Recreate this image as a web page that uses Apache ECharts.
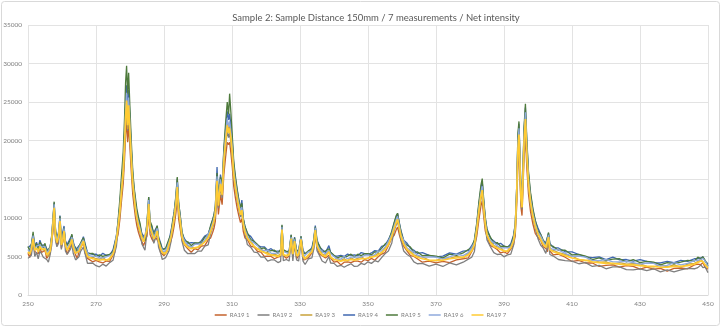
<!DOCTYPE html>
<html>
<head>
<meta charset="utf-8">
<script src="https://cdn.jsdelivr.net/npm/echarts@6/dist/echarts.min.js"></script>
<style>
  html, body { margin: 0; padding: 0; background: #ffffff; }
  #chart { width: 721px; height: 327px; }
</style>
</head>
<body>
<div id="chart"></div>
<script>
// Wavelength positions shared by all seven measurements
const wavelength = [
  250, 250.5, 251, 251.5, 252, 252.5, 253, 253.5, 254, 254.5,
  255, 255.5, 256, 256.5, 257, 257.3, 257.7, 258.1, 258.5, 259,
  259.4, 259.8, 260.2, 260.6, 261, 261.5, 262, 262.5, 262.9, 263.3,
  264, 264.5, 265, 265.5, 266.3, 266.8, 267.5, 268, 269, 270,
  271, 272, 273, 274, 275, 275.5, 276, 276.5, 277, 277.5,
  278, 278.4, 278.7, 279, 279.3, 279.6, 280, 280.4, 280.8, 281.2,
  281.6, 282, 282.5, 283, 283.5, 284, 284.4, 285, 285.5, 285.9,
  286.5, 287, 287.5, 288, 288.4, 289, 289.5, 290, 290.5, 291,
  291.5, 292, 292.5, 293, 293.5, 293.9, 294.3, 294.8, 295.3, 296,
  297, 298, 299, 300, 301, 302, 303, 303.7, 304.3, 304.7,
  305.1, 305.6, 306, 306.6, 307.1, 307.6, 308.1, 308.6, 309, 309.3,
  309.7, 310.1, 310.5, 311, 311.5, 312, 312.5, 312.9, 313.3, 313.8,
  314.5, 315.5, 316.5, 317.5, 318.5, 319.5, 320.5, 321.5, 322.5, 323.5,
  324.3, 324.7, 325.1, 326, 326.8, 327.4, 327.9, 328.4, 329, 329.6,
  330.3, 330.9, 331.5, 332.5, 333.5, 334, 334.5, 335, 335.7, 336.5,
  337.5, 338.5, 339, 340, 341, 342, 343, 344, 345, 346,
  347, 348, 349, 350, 351, 352, 353, 354, 355, 356,
  357, 357.7, 358.3, 358.7, 359.2, 359.7, 360.5, 361.5, 362.5, 363.5,
  364.5, 366, 368, 370, 372, 374, 376, 378, 379.5, 380.5,
  381.3, 382, 382.6, 383.2, 383.6, 384, 384.5, 385, 386, 387,
  388, 389, 390, 391, 392, 392.8, 393.3, 393.7, 394.1, 394.4,
  394.7, 395, 395.3, 395.6, 395.9, 396.3, 396.7, 397.2, 397.8, 398.5,
  399.2, 400, 400.8, 401.5, 402.3, 402.8, 403.1, 403.5, 404.5, 406,
  408, 410, 412, 414, 416, 418, 420, 422, 424, 426,
  428, 430, 432, 434, 436, 438, 440, 442, 444, 446,
  447, 447.9, 448.5, 449.2, 450
];

const ra19_1 = [
  5400, 4850, 5800, 6950, 5650, 5600, 5350, 6100, 5500, 5600,
  5800, 4750, 4900, 5350, 7150, 8000, 10200, 7500, 6400, 7400,
  8650, 6050, 6800, 7450, 6350, 5300, 5750, 6400, 6800, 6100,
  5200, 4750, 5600, 5850, 6850, 5400, 4750, 4700, 4300, 4500,
  4300, 4150, 4400, 4350, 5150, 5500, 6950, 7900, 9700, 12150,
  14400, 17600, 20700, 22700, 19800, 22100, 18900, 15800, 13100, 11500,
  10100, 9000, 8100, 7400, 7250, 6400, 6450, 7650, 10600, 7850,
  7200, 6850, 7500, 7450, 6850, 5500, 5250, 5100, 5000, 5700,
  6400, 6950, 7750, 9000, 10600, 12600, 9900, 8450, 7100, 6500,
  6000, 5550, 6000, 5850, 6350, 6400, 7150, 7400, 8100, 8650,
  9550, 13300, 10450, 13000, 11700, 15600, 17800, 19800, 19500, 19800,
  18300, 16500, 14100, 12600, 11300, 10300, 9400, 9900, 8300, 7400,
  7200, 6350, 6200, 5650, 5550, 5000, 5050, 5000, 4700, 4900,
  5000, 7700, 5100, 4750, 5050, 6700, 5050, 6500, 4700, 5100,
  7000, 4550, 4600, 4850, 5450, 5900, 7600, 6200, 5300, 5100,
  4800, 5150, 4800, 4250, 4350, 3900, 4250, 4300, 4200, 4400,
  4400, 4250, 4600, 4450, 4750, 4500, 4950, 5300, 5500, 6400,
  7400, 7750, 8450, 8800, 7850, 7100, 6350, 5700, 5100, 5000,
  4700, 4250, 4400, 4150, 4350, 4200, 4550, 4700, 4800, 5600,
  6300, 7650, 9700, 11500, 12200, 10300, 8300, 7600, 6400, 6200,
  5900, 5450, 5600, 5350, 5950, 6500, 7650, 11250, 16900, 18700,
  14800, 11300, 10300, 13900, 17800, 20500, 16600, 13100, 10800, 9200,
  8000, 7450, 7100, 6250, 6050, 5600, 7100, 5700, 5200, 5300,
  4900, 4350, 4500, 4150, 4150, 3700, 3850, 3900, 3600, 3800,
  3700, 3350, 3600, 3350, 3450, 3100, 3450, 3500, 3400, 3900,
  4000, 3950, 4200, 3550, 3350
];

const ra19_2 = [
  4750, 4700, 5150, 6800, 5000, 5550, 4700, 5650, 5350, 4900,
  5150, 4600, 4250, 5200, 6500, 8600, 11000, 7050, 6250, 6700,
  9300, 5900, 6150, 8050, 5700, 5250, 5100, 5950, 6650, 5400,
  4550, 4600, 4950, 5700, 6200, 5350, 4100, 4250, 4150, 3800,
  3650, 4000, 3750, 4200, 4500, 5450, 6300, 8550, 10500, 13100,
  15500, 18900, 22300, 24400, 21300, 23900, 20400, 17000, 14100, 12400,
  10900, 9700, 8700, 8000, 6600, 6350, 5800, 8250, 11450, 8450,
  7750, 6700, 6850, 8050, 6200, 5450, 4600, 4650, 4850, 5000,
  5750, 6800, 8350, 9700, 11450, 13600, 10700, 9100, 6950, 5800,
  5350, 5400, 5350, 5700, 5700, 6350, 6500, 7950, 8750, 9300,
  10300, 14400, 11250, 14000, 12600, 16800, 19200, 21300, 20400, 21000,
  19700, 17800, 15200, 13600, 12200, 11100, 10100, 10700, 8900, 8000,
  6550, 6200, 5550, 5500, 4900, 4950, 4400, 4550, 4550, 4200,
  4350, 8200, 4450, 4600, 4400, 6900, 4400, 6700, 4550, 4400,
  6900, 4400, 3950, 4700, 4800, 5850, 8150, 5750, 5150, 4400,
  4150, 5000, 4150, 4100, 3700, 3850, 3600, 3850, 4050, 3700,
  3750, 4100, 3950, 4300, 4100, 4450, 4300, 4850, 5350, 5700,
  6750, 8350, 9100, 9500, 8450, 7050, 5700, 5250, 4950, 4300,
  4050, 4100, 3750, 4000, 3700, 4150, 3900, 4250, 4650, 4900,
  5650, 8250, 10500, 12400, 13200, 11050, 8900, 7150, 6250, 5500,
  5250, 5300, 4950, 5200, 5300, 6450, 8250, 12100, 18200, 20200,
  15900, 12100, 11100, 14900, 19200, 22100, 17800, 14100, 11600, 9900,
  8650, 7300, 6450, 6100, 5400, 5550, 7000, 5250, 5050, 4600,
  4450, 4400, 4050, 4200, 3700, 3850, 3400, 3650, 3650, 3300,
  3250, 3400, 3150, 3400, 3000, 3250, 3000, 3250, 3450, 3400,
  3550, 3900, 3550, 3600, 2900
];

const ra19_3 = [
  5750, 5550, 5900, 7250, 6100, 6150, 5800, 6200, 6100, 5800,
  6150, 5450, 5000, 5650, 7600, 8900, 11400, 7600, 7000, 7600,
  9650, 6750, 6900, 8300, 6800, 5850, 6200, 6500, 7400, 6300,
  5550, 5450, 5700, 6150, 7300, 5950, 5200, 4800, 4900, 4700,
  4650, 4850, 4500, 4650, 5600, 6050, 7400, 8800, 10900, 13500,
  15800, 19800, 22600, 25800, 21500, 25000, 20600, 17800, 14300, 13000,
  11300, 10100, 8900, 8100, 7700, 6950, 6900, 8300, 11900, 8800,
  8100, 7550, 7600, 8200, 7300, 6050, 5700, 5200, 5600, 5900,
  6750, 7650, 8500, 9950, 11900, 14200, 11000, 9300, 7700, 6700,
  6350, 6250, 6100, 6150, 6800, 6950, 7600, 8200, 9100, 9650,
  10700, 15000, 11500, 14600, 12900, 17500, 20000, 22400, 21200, 22000,
  20500, 18100, 15900, 13900, 12700, 11300, 10500, 10900, 9300, 8200,
  7550, 7050, 6300, 5950, 6000, 5550, 5500, 5100, 5300, 5100,
  5350, 8600, 5200, 5050, 5500, 7300, 5500, 7000, 5300, 5300,
  7350, 5250, 4700, 5150, 5900, 6450, 8400, 6300, 5900, 5300,
  5150, 5850, 4900, 4550, 4800, 4450, 4700, 4400, 4800, 4600,
  4750, 4950, 4700, 4750, 5200, 5050, 5400, 5400, 6100, 6600,
  7750, 8700, 9400, 9800, 8800, 7650, 6800, 5800, 5700, 5200,
  5050, 4950, 4500, 4450, 4800, 4750, 5000, 4800, 5400, 5800,
  6650, 8600, 10800, 12700, 13800, 11300, 9300, 7700, 7000, 6400,
  6250, 6150, 5700, 5650, 6400, 7050, 8600, 12400, 19000, 21000,
  16600, 12600, 11300, 15600, 20000, 23200, 18500, 14400, 12100, 10300,
  9000, 8150, 7200, 6550, 6500, 6150, 7600, 5800, 5800, 5500,
  5250, 5050, 4600, 4450, 4600, 4250, 4300, 4000, 4200, 4000,
  4050, 4050, 3700, 3650, 3900, 3650, 3900, 3600, 4000, 4100,
  4350, 4650, 4300, 3850, 3700
];

const ra19_4 = [
  6100, 6100, 6550, 7900, 6350, 6850, 6100, 7100, 6450, 6400,
  6500, 6000, 5650, 6150, 7850, 9600, 12000, 8500, 7350, 8200,
  10300, 7300, 7550, 8950, 7050, 6550, 6500, 7400, 7750, 6900,
  5900, 6000, 6350, 6650, 7550, 6650, 5500, 5700, 5250, 5300,
  5000, 5400, 5150, 5150, 5850, 6750, 7700, 9500, 11650, 14600,
  17300, 21100, 24800, 27200, 23800, 26600, 22700, 18900, 15700, 13800,
  12100, 10800, 9700, 8850, 7950, 7650, 7200, 9200, 12700, 9400,
  8650, 8100, 8250, 8950, 7550, 6750, 6000, 6100, 5950, 6500,
  7100, 8200, 9300, 10800, 12700, 15100, 11900, 10150, 8050, 7300,
  6700, 6800, 6750, 6650, 7050, 7650, 7900, 8850, 9700, 10350,
  11400, 16600, 12500, 15600, 14000, 18700, 21400, 23800, 22700, 23500,
  21900, 19800, 17000, 15100, 13600, 12300, 11200, 12300, 9900, 8900,
  7900, 7600, 6950, 6450, 6250, 6250, 5800, 6000, 5650, 5700,
  5700, 9000, 5850, 5550, 5750, 7800, 5800, 7500, 5650, 5900,
  7600, 5800, 5350, 5650, 6150, 7150, 9000, 7200, 6250, 5900,
  5500, 6400, 5550, 5050, 5050, 5150, 5000, 5300, 5150, 5200,
  5100, 5500, 5350, 5250, 5450, 5750, 5700, 6300, 6450, 7200,
  8100, 9300, 10150, 10550, 9400, 8350, 7100, 6700, 6050, 5800,
  5400, 5500, 5150, 4950, 5050, 5450, 5300, 5700, 5750, 6400,
  7000, 9200, 11650, 13800, 14700, 12300, 9900, 8600, 7350, 7000,
  6600, 6700, 6350, 6150, 6650, 7750, 9200, 13500, 20300, 22200,
  17700, 13500, 12300, 16600, 21400, 24300, 19900, 15700, 13000, 11000,
  9600, 8700, 7850, 7050, 6750, 6850, 8000, 6700, 6150, 6100,
  5600, 5600, 5250, 4950, 4850, 4950, 4600, 4900, 4550, 4600,
  4400, 4600, 4350, 4150, 4150, 4350, 4200, 4500, 4350, 4700,
  4700, 4800, 4950, 4350, 4050
];

const ra19_5 = [
  6300, 5700, 6550, 8200, 6100, 6700, 5950, 6850, 6600, 6100,
  6700, 5600, 5650, 6250, 7600, 9700, 12100, 8250, 7500, 7900,
  10200, 6900, 7550, 8700, 6800, 6400, 6350, 7150, 7900, 6600,
  6100, 5600, 6350, 6750, 7400, 6500, 5350, 5450, 5400, 5000,
  5200, 5000, 5150, 5250, 5600, 6600, 7550, 9700, 12300, 15500,
  18500, 23000, 27500, 29700, 26000, 28800, 24000, 19800, 16200, 14000,
  12600, 11200, 10100, 9200, 7700, 7500, 7050, 9500, 12700, 9600,
  8900, 7700, 8250, 9000, 7300, 6600, 5850, 5850, 6100, 6200,
  7300, 7800, 9500, 10800, 12900, 15300, 12000, 10200, 8200, 7000,
  6900, 6400, 6750, 6750, 6800, 7500, 7750, 9000, 9800, 10400,
  11600, 15800, 12800, 15300, 14200, 19000, 22200, 25000, 23400, 26100,
  23500, 20500, 17400, 15400, 13800, 12400, 11300, 11900, 10000, 8900,
  8100, 7200, 6950, 6550, 6000, 6100, 5650, 5750, 5800, 5400,
  5900, 9100, 5850, 5650, 5500, 7800, 5650, 7400, 5800, 5600,
  7600, 5400, 5350, 5750, 5900, 7000, 8850, 6950, 6400, 5600,
  5700, 6000, 5550, 5150, 4800, 5000, 4850, 5050, 5300, 4900,
  5300, 5100, 5350, 5350, 5200, 5600, 5550, 6050, 6600, 6900,
  8300, 9400, 10300, 10600, 9300, 8200, 6950, 6450, 6200, 5500,
  5600, 5100, 5150, 5050, 4800, 5300, 5150, 5450, 5900, 6100,
  7200, 9400, 12000, 14200, 15100, 12600, 10100, 8350, 7500, 6700,
  6800, 6300, 6350, 6250, 6400, 7600, 9100, 13600, 21000, 22500,
  18000, 13700, 12200, 16900, 21800, 24800, 20300, 16000, 13300, 11200,
  9700, 8300, 7850, 7150, 6500, 6700, 8100, 6450, 6300, 5800,
  5800, 5200, 5250, 5050, 4600, 4800, 4450, 4650, 4700, 4300,
  4600, 4200, 4350, 4250, 3900, 4200, 4050, 4250, 4500, 4400,
  4900, 4700, 4950, 4450, 3800
];

const ra19_6 = [
  5900, 5500, 6350, 7700, 5950, 6350, 6100, 6500, 6200, 6150,
  6300, 5400, 5450, 6100, 7450, 9250, 11750, 7900, 7100, 7950,
  9950, 6700, 7350, 8650, 6650, 6050, 6500, 6800, 7500, 6650,
  5700, 5400, 6150, 6600, 7150, 6150, 5500, 5100, 5000, 5050,
  4800, 4800, 4950, 5100, 5450, 6250, 7700, 9150, 11200, 14000,
  16600, 20300, 23900, 26200, 22900, 25600, 21800, 18200, 15100, 13300,
  11650, 10400, 9350, 8550, 7550, 7150, 7200, 8850, 12300, 9050,
  8300, 7500, 8050, 8650, 6850, 6250, 6000, 5500, 5700, 6250,
  6900, 7600, 8950, 10400, 12300, 14600, 11450, 9800, 7800, 7050,
  6500, 6200, 6550, 6600, 6650, 7150, 7900, 8550, 9350, 10000,
  11000, 15400, 12100, 15000, 13500, 18000, 20600, 22900, 21800, 22500,
  21100, 19000, 16300, 14600, 13100, 11900, 10800, 11400, 9600, 8500,
  7700, 7000, 6750, 6400, 5850, 5750, 5800, 5400, 5400, 5450,
  5500, 8800, 5650, 5500, 5350, 7500, 5800, 7200, 5400, 5650,
  7400, 5200, 5150, 5600, 5750, 6650, 8700, 6600, 6000, 5650,
  5300, 5800, 5350, 5000, 4650, 4650, 5000, 4700, 4900, 4950,
  4900, 4900, 5150, 5200, 5050, 5250, 5700, 5700, 6200, 6950,
  7900, 8950, 9750, 10200, 9050, 7850, 7100, 6100, 5800, 5550,
  5200, 4900, 4950, 4900, 4650, 4950, 5300, 5100, 5500, 6150,
  6800, 8850, 11250, 13300, 14100, 11850, 9550, 7900, 7100, 6750,
  6400, 6100, 6150, 6100, 6250, 7250, 8850, 13000, 19600, 21600,
  17100, 13000, 11900, 16000, 20600, 23700, 19100, 15100, 12500, 10600,
  9250, 8100, 7650, 7000, 6350, 6350, 7800, 6100, 5900, 5850,
  5400, 5000, 5050, 4900, 4450, 4450, 4600, 4300, 4300, 4350,
  4200, 4000, 4150, 4100, 3750, 3850, 4200, 3900, 4100, 4450,
  4500, 4600, 4750, 4400, 3650
];

const ra19_7 = [
  5600, 5300, 5900, 7300, 5800, 6100, 5600, 6300, 5900, 5700,
  6000, 5200, 5000, 5700, 7300, 8900, 11300, 7700, 6800, 7500,
  9600, 6500, 6900, 8300, 6500, 5800, 6000, 6600, 7200, 6200,
  5400, 5200, 5700, 6200, 7000, 5900, 5000, 4900, 4700, 4600,
  4500, 4600, 4500, 4700, 5300, 6000, 7200, 8800, 10800, 13500,
  16000, 19500, 23000, 25200, 22000, 24600, 21000, 17500, 14500, 12800,
  11200, 10000, 9000, 8200, 7400, 6900, 6700, 8500, 11800, 8700,
  8000, 7300, 7600, 8300, 7000, 6000, 5500, 5300, 5400, 5800,
  6600, 7400, 8600, 10000, 11800, 14000, 11000, 9400, 7500, 6600,
  6200, 6000, 6100, 6200, 6500, 6900, 7400, 8200, 9000, 9600,
  10600, 14800, 11600, 14400, 13000, 17300, 19800, 22000, 21000, 21600,
  20300, 18300, 15700, 14000, 12600, 11400, 10400, 11000, 9200, 8200,
  7400, 6800, 6300, 6000, 5700, 5500, 5300, 5200, 5100, 5000,
  5200, 8500, 5200, 5100, 5200, 7300, 5300, 7000, 5100, 5200,
  7200, 5000, 4700, 5200, 5600, 6400, 8400, 6400, 5700, 5200,
  5000, 5600, 4900, 4600, 4500, 4400, 4500, 4500, 4600, 4500,
  4600, 4700, 4700, 4800, 4900, 5000, 5200, 5500, 5900, 6500,
  7600, 8600, 9400, 9800, 8700, 7600, 6600, 5900, 5500, 5100,
  4900, 4700, 4500, 4500, 4500, 4700, 4800, 4900, 5200, 5700,
  6500, 8500, 10800, 12800, 13600, 11400, 9200, 7800, 6800, 6300,
  6100, 5900, 5700, 5700, 6100, 7000, 8500, 12500, 18800, 20800,
  16400, 12500, 11400, 15400, 19800, 22800, 18400, 14500, 12000, 10200,
  8900, 7900, 7200, 6600, 6200, 6100, 7500, 5900, 5600, 5400,
  5100, 4800, 4600, 4500, 4300, 4200, 4100, 4100, 4000, 3900,
  3900, 3800, 3700, 3700, 3600, 3600, 3700, 3700, 3800, 4000,
  4200, 4400, 4300, 3900, 3500
];

const seriesNames = ['RA19 1', 'RA19 2', 'RA19 3', 'RA19 4', 'RA19 5', 'RA19 6', 'RA19 7'];
const seriesValues = [ra19_1, ra19_2, ra19_3, ra19_4, ra19_5, ra19_6, ra19_7];
const seriesColors = ['#C4622D', '#7F7F7F', '#C9A23A', '#3F67B0', '#4E7A3C', '#8FAADC', '#FFCB33'];

const textFont = 'Lato, "Liberation Sans", sans-serif';

const chart = echarts.init(document.getElementById('chart'), null, { renderer: 'canvas' });

chart.setOption({
  animation: false,
  backgroundColor: '#ffffff',
  title: {
    text: 'Sample 2: Sample Distance 150mm / 7 measurements / Net intensity',
    left: 371,
    textAlign: 'center',
    top: 8,
    textStyle: { fontFamily: textFont, fontSize: 9.5, fontWeight: 'normal', color: '#595959' }
  },
  graphic: [{
    type: 'rect',
    shape: { x: 1.5, y: 1.5, width: 718, height: 324, r: 3 },
    style: { fill: 'none', stroke: '#d9d9d9', lineWidth: 1 },
    silent: true,
    z: -1
  }],
  legend: {
    bottom: 4,
    left: 'center',
    icon: 'rect',
    itemWidth: 12,
    itemHeight: 1.5,
    itemGap: 8,
    textStyle: { fontFamily: textFont, fontSize: 6, color: '#7f7f7f', padding: [0, 0, 0, -2] },
    data: seriesNames
  },
  grid: { left: 28, right: 13, top: 25, bottom: 32, containLabel: false },
  xAxis: {
    type: 'value',
    min: 250,
    max: 450,
    interval: 20,
    axisLine: { show: true, lineStyle: { color: '#d9d9d9', width: 1 } },
    axisTick: { show: false },
    axisLabel: { fontFamily: textFont, fontSize: 6.5, color: '#808080', margin: 5 },
    splitLine: { show: true, lineStyle: { color: '#e3e3e3', width: 1 } }
  },
  yAxis: {
    type: 'value',
    min: 0,
    max: 35000,
    interval: 5000,
    axisLine: { show: false },
    axisTick: { show: false },
    axisLabel: {
      fontFamily: textFont, fontSize: 6.5, color: '#808080', margin: 6,
      formatter: (v) => String(v)
    },
    splitLine: { show: true, lineStyle: { color: '#e3e3e3', width: 1 } }
  },
  series: seriesNames.map((name, i) => ({
    name: name,
    type: 'line',
    symbol: 'none',
    showSymbol: false,
    color: seriesColors[i],
    lineStyle: { color: seriesColors[i], width: i === 6 ? 1.7 : 1.3 },
    data: wavelength.map((x, j) => [x, seriesValues[i][j]]),
    z: 2 + i
  }))
});
</script>
</body>
</html>
